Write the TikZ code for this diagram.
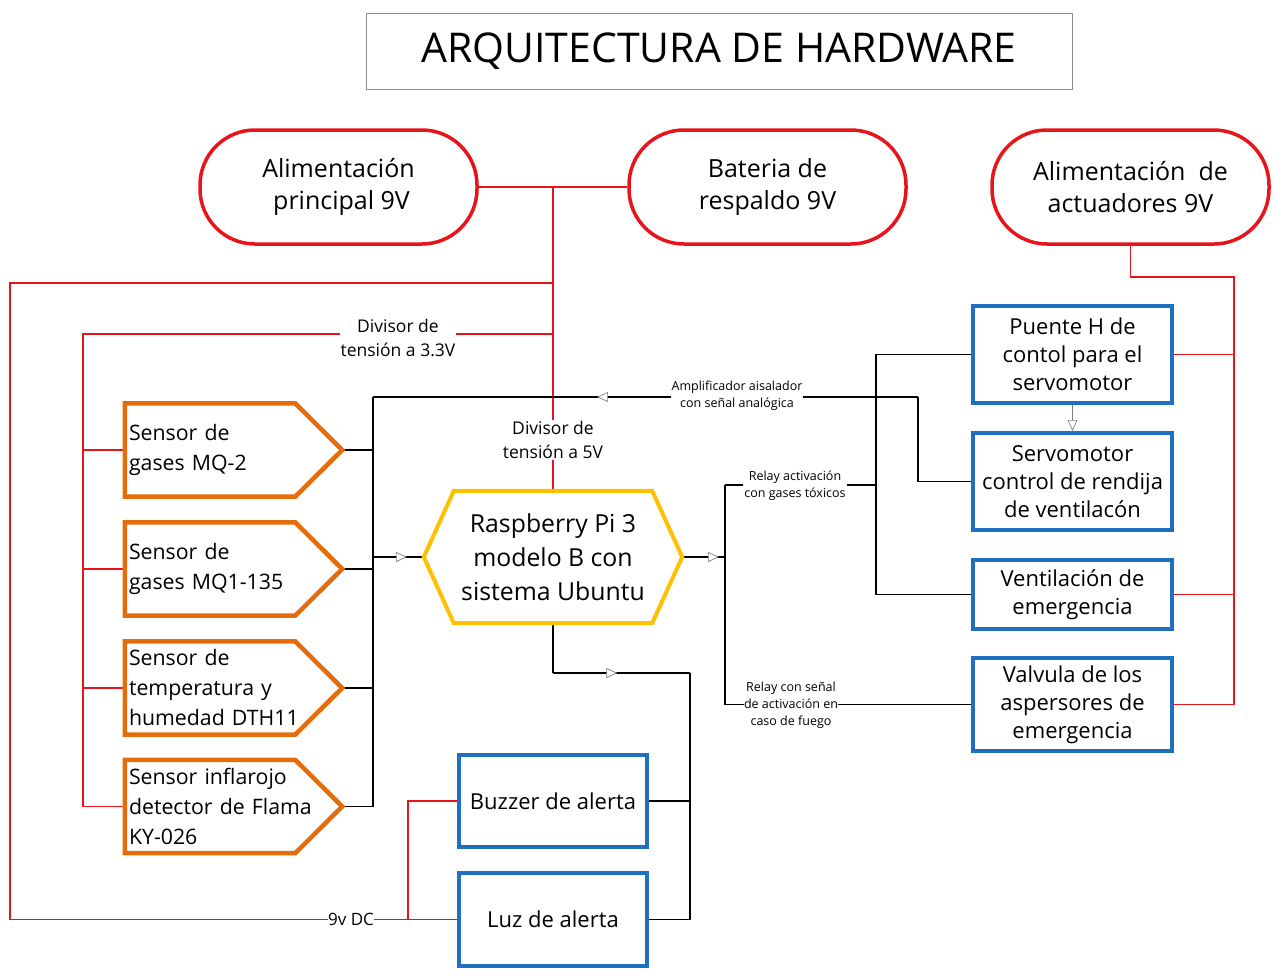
\documentclass[tikz,border=0pt]{standalone}
\usepackage{fontspec}
\setmainfont{Open Sans}
\usetikzlibrary{arrows.meta,decorations.markings}
\definecolor{pillred}{HTML}{E8141C}
\definecolor{wirered}{HTML}{E8141C}
\definecolor{sensororange}{HTML}{E46C0A}
\definecolor{boxblue}{HTML}{1F70C1}
\definecolor{hexyellow}{HTML}{FFC000}
\definecolor{titlegray}{HTML}{8C8C8C}
\newcommand\sensoroutline[1]{\draw[sensorline] (#1.north west) -- ([xshift=-47pt]#1.north east) -- (#1.east) -- ([xshift=-47pt]#1.south east) -- (#1.south west) -- cycle;}
\begin{document}
\begin{tikzpicture}[x=1pt,y=-1pt,
  pill/.style={draw=pillred, line width=3.5pt, rounded corners=55pt, minimum width=277pt, minimum height=114pt, align=center, font=\fontsize{25}{32}\selectfont},
  bbox/.style={draw=boxblue, line width=4pt, minimum width=199pt, align=center, inner sep=2pt, font=\fontsize{22}{28}\selectfont},
  sensortxt/.style={minimum width=217pt, minimum height=93pt, text width=209pt, align=left, inner sep=4pt, font=\fontsize{21.3}{30}\selectfont},
  sensorline/.style={draw=sensororange, line width=4.5pt},
  hexline/.style={draw=hexyellow, line width=4pt},
  conn/.style={draw=black, line width=1.2pt},
  redline/.style={draw=wirered, line width=1.1pt},
  lbl/.style={fill=white, inner sep=1pt, align=center, font=\fontsize{12.5}{17}\selectfont},
  biglbl/.style={fill=white, inner sep=1pt, align=center, font=\fontsize{17.5}{24}\selectfont},
  midarrow/.style={postaction={decorate,decoration={markings,mark=at position #1 with {\arrow{Triangle[open,fill=white,length=11pt,width=10pt,color=gray,line width=0.7pt]}}}}}
]
\useasboundingbox (0,0) rectangle (1280,977);
\fill[white] (0,0) rectangle (1280,977);

% title
\node[draw=titlegray, line width=0.9pt, minimum width=706pt, minimum height=76pt, font=\fontsize{41}{46}\selectfont] (title) at (719,51) {ARQUITECTURA DE HARDWARE};

% power sources
\node[pill] (p1) at (338.5,187) {Alimentación\\\hspace*{6pt}principal 9V};
\node[pill] (p2) at (767.5,187) {Bateria de\\respaldo 9V};
\node[pill] (p3) at (1130.5,187) {Alimentación\ \ de\\actuadores 9V};

% sensors
\node[sensortxt] (s1) at (233.5,450) {Sensor de\\gases MQ-2};
\node[sensortxt] (s2) at (233.5,569) {Sensor de\\gases MQ1-135};
\node[sensortxt] (s3) at (233.5,688) {Sensor de\\temperatura y\\humedad DTH11};
\node[sensortxt] (s4) at (233.5,806.5) {Sensor inflarojo\\detector de Flama\\KY-026};

% raspberry
\node[minimum width=258pt, minimum height=132pt, align=center, font=\fontsize{24.8}{34}\selectfont] (rpi) at (553,557) {Raspberry Pi 3\\modelo B con\\sistema Ubuntu};

% actuators
\node[bbox, minimum height=97pt] (puente) at (1072.5,354.5) {Puente H de\\contol para el\\servomotor};
\node[bbox, minimum height=97pt] (servo) at (1072.5,481.5) {Servomotor\\control de rendija\\de ventilacón};
\node[bbox, minimum height=69pt] (vent) at (1072.5,594.5) {Ventilación de\\emergencia};
\node[bbox, minimum height=93pt] (valv) at (1072.5,704.5) {Valvula de los\\aspersores de\\emergencia};
\node[bbox, minimum width=188pt, minimum height=92pt] (buzz) at (553,801) {Buzzer de alerta};
\node[bbox, minimum width=188pt, minimum height=93pt] (luz) at (553,919.5) {Luz de alerta};

% bus coordinates
\coordinate (jtop) at (553,187);
\coordinate (j9v) at (553,283);
\coordinate (j33) at (553,334);
\coordinate (redL) at (83,334);
\coordinate (redO) at (10,283);
\coordinate (j408) at (408,919.5);
\coordinate (redR) at (1234,277);
\coordinate (busL) at (373,397);
\coordinate (ampR) at (918,397);
\coordinate (busR) at (725,485);
\coordinate (busR2) at (876,354.5);
\coordinate (busB) at (690,673);

% red wiring
\draw[redline] (p1.east) -- (p2.west);
\draw[redline] (jtop) -- (rpi.north);
\draw[redline] (j9v) -- (redO) -- (redO |- luz.west) -- (luz.west);
\draw[redline] (j408) |- (buzz.west);
\draw[redline] (j33) -- (redL) -- (redL |- s4.west);
\foreach \s in {s1,s2,s3,s4} \draw[redline] (redL |- \s.west) -- (\s.west);
\draw[redline] (p3.south) |- (redR) -- (redR |- valv.east);
\foreach \b in {puente,vent,valv} \draw[redline] (\b.east) -- (\b.east -| redR);

% black wiring
\foreach \s in {s1,s2,s3,s4} \draw[conn] (\s.east) -- (\s.east -| busL);
\draw[conn] (busL) -- (busL |- s4.east);
\draw[conn,midarrow=0.67] (busL |- rpi.west) -- (rpi.west);
\draw[conn] (servo.west) -| (ampR);
\draw[conn,midarrow=0.589] (ampR) -- (busL);
\draw[conn,midarrow=0.86] (rpi.east) -- (rpi.east -| busR);
\draw[conn] (busR) -- (busR |- valv.west) -- (valv.west);
\draw[conn] (busR) -- (busR -| busR2);
\draw[conn] (puente.west) -- (busR2) -- (busR2 |- vent.west) -- (vent.west);
\draw[conn] (rpi.south) -- (rpi.south |- busB);
\draw[conn,midarrow=0.47] (rpi.south |- busB) -- (busB);
\draw[conn] (busB) -- (busB |- luz.east) -- (luz.east);
\draw[conn] (buzz.east) -- (buzz.east -| busB);
\draw[draw=gray, line width=0.7pt, -{Triangle[open,fill=white,length=11pt,width=10pt]}] (puente.south) -- (servo.north);

% labels on wires
\node[biglbl] (l33) at (398,338) {Divisor de\\tensión a 3.3V};
\node[biglbl] (l5) at (553,440) {Divisor de\\tensión a 5V};
\node[lbl] (lamp) at (737,396) {Amplificador aisalador\\con señal analógica};
\node[lbl] (lrel) at (795,486) {Relay activación\\con gases tóxicos};
\node[lbl, inner sep=0pt] (lfue) at (791,705) {Relay con señal\\de activación en\\caso de fuego};
\node[lbl, inner sep=0.3pt, font=\fontsize{17}{20}\selectfont] (l9v) at (351,919.5) {9v DC};

% shapes on top
\foreach \s in {s1,s2,s3,s4} {\sensoroutline{\s}}
\draw[hexline] (rpi.west) -- ([xshift=30pt]rpi.north west) -- ([xshift=-30pt]rpi.north east) -- (rpi.east) -- ([xshift=-30pt]rpi.south east) -- ([xshift=30pt]rpi.south west) -- cycle;
\end{tikzpicture}
\end{document}
